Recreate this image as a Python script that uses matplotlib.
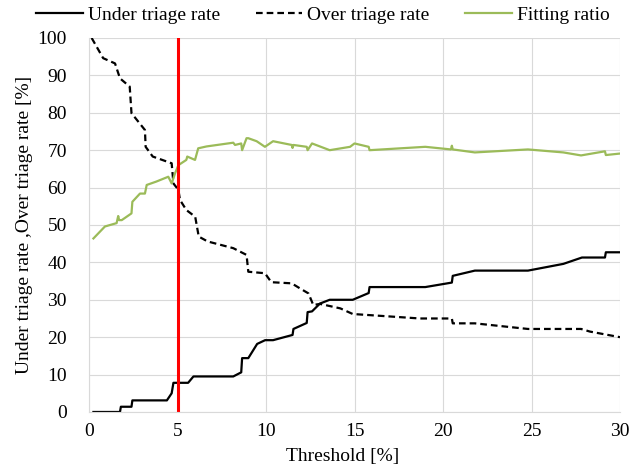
import matplotlib.pyplot as plt

plt.rcParams['font.family'] = ['Liberation Serif', 'DejaVu Serif']

# Under triage rate (solid black)
under_x = [0.25, 1.75, 1.8, 2.4, 2.45, 4.4, 4.67, 4.77, 5.6, 5.9, 8.15, 8.6, 8.65, 9.0,
           9.5, 9.95, 10.4, 11.5, 11.55, 12.3, 12.35, 12.6, 13.05, 13.6, 14.9, 15.8, 15.85,
           19.0, 20.5, 20.55, 21.8, 24.8, 26.8, 27.85, 29.15, 29.2, 30.0]
under_y = [0, 0, 1.4, 1.4, 3.1, 3.1, 5.0, 7.8, 7.8, 9.5, 9.5, 10.6, 14.4, 14.4,
           18.2, 19.2, 19.2, 20.6, 22.2, 23.8, 26.7, 26.9, 29.0, 30.0, 30.0, 31.8, 33.4,
           33.4, 34.6, 36.4, 37.8, 37.8, 39.6, 41.3, 41.3, 42.7, 42.7]

# Over triage rate (dashed black)
over_x = [0.15, 0.8, 1.47, 1.75, 2.3, 2.4, 3.16, 3.2, 3.6, 4.67, 4.77, 5.05, 5.14, 5.5,
          6.0, 6.2, 6.7, 8.15, 8.9, 9.0, 9.94, 10.3, 11.45, 11.9, 12.4, 12.67, 13.05,
          14.2, 14.9, 18.7, 20.5, 20.55, 21.8, 24.8, 27.8, 28.3, 30.0]
over_y = [100, 94.6, 93.2, 89.2, 87.0, 79.9, 75.4, 70.9, 68.3, 66.5, 61.1, 59.4, 56.7, 54.0,
          52.2, 46.9, 45.6, 43.8, 42.0, 37.5, 37.1, 34.7, 34.4, 33.1, 31.7, 28.6, 28.9,
          27.7, 26.2, 25.0, 25.0, 23.7, 23.7, 22.2, 22.2, 21.5, 20.0]

# Fitting ratio (green)
fit_x = [0.25, 0.9, 1.56, 1.65, 1.7, 1.85, 2.4, 2.45, 2.88, 3.16, 3.26, 3.8, 4.48, 4.67,
         4.86, 5.05, 5.5, 5.55, 5.99, 6.17, 6.64, 8.15, 8.25, 8.6, 8.65, 8.9, 9.0, 9.47,
         9.94, 10.4, 11.45, 11.5, 11.55, 12.3, 12.35, 12.6, 13.6, 14.75, 15.0, 15.8,
         15.85, 19.0, 20.45, 20.5, 20.55, 21.8, 24.8, 26.8, 27.8, 29.15, 29.2, 30.0]
fit_y = [46.4, 49.6, 50.5, 52.4, 51.3, 51.3, 53.1, 56.2, 58.4, 58.4, 60.7, 61.6, 62.9, 61.1,
         63.8, 66.0, 67.4, 68.3, 67.4, 70.5, 71.0, 72.0, 71.4, 71.8, 70.0, 73.2, 73.2, 72.4,
         70.9, 72.4, 71.4, 70.6, 71.4, 70.9, 70.0, 71.8, 70.0, 70.9, 71.8, 70.9,
         70.0, 70.9, 70.2, 71.2, 70.2, 69.4, 70.2, 69.4, 68.6, 69.7, 68.7, 69.1]

threshold = 5

fig = plt.figure(figsize=(6.29, 4.73), dpi=100)
ax = fig.add_axes([0.1415, 0.129, 0.8442, 0.7907])

ax.plot(under_x, under_y, color='black', lw=1.6, label='Under triage rate')
ax.plot(over_x, over_y, color='black', lw=1.6, ls=(0, (3, 1.8)), label='Over triage rate')
ax.plot(fit_x, fit_y, color='#9BBB59', lw=1.6, label='Fitting ratio')
ax.plot([threshold, threshold], [0, 100], color='#FF0000', lw=2.2)

ax.set_xlim(0, 30)
ax.set_ylim(0, 100)
ax.set_xticks(range(0, 31, 5))
ax.set_yticks(range(0, 101, 10))
ax.grid(True, color='#d9d9d9', lw=0.8)
ax.set_axisbelow(True)
ax.tick_params(length=0, labelsize=14)
ax.tick_params(axis='x', pad=8)
ax.tick_params(axis='y', pad=16)
for s in ax.spines.values():
    s.set_visible(False)
ax.spines['bottom'].set_visible(True)
ax.spines['bottom'].set_color('#d9d9d9')
ax.spines['left'].set_visible(True)
ax.spines['left'].set_color('#d9d9d9')

ax.set_xlabel('Threshold [%]', fontsize=14, labelpad=4)
ax.xaxis.set_label_coords(0.477, -0.097)
ax.set_ylabel('Under triage rate ,Over triage rate [%]', fontsize=14, labelpad=3)

fig.legend(*ax.get_legend_handles_labels(), loc='center left',
           bbox_to_anchor=(36 / 629, 1 - 15 / 473), ncol=3, frameon=False,
           fontsize=14, handlelength=2.4, handletextpad=0.25, columnspacing=1.85,
           borderpad=0, borderaxespad=0)

fig.savefig('out.png', dpi=100)
